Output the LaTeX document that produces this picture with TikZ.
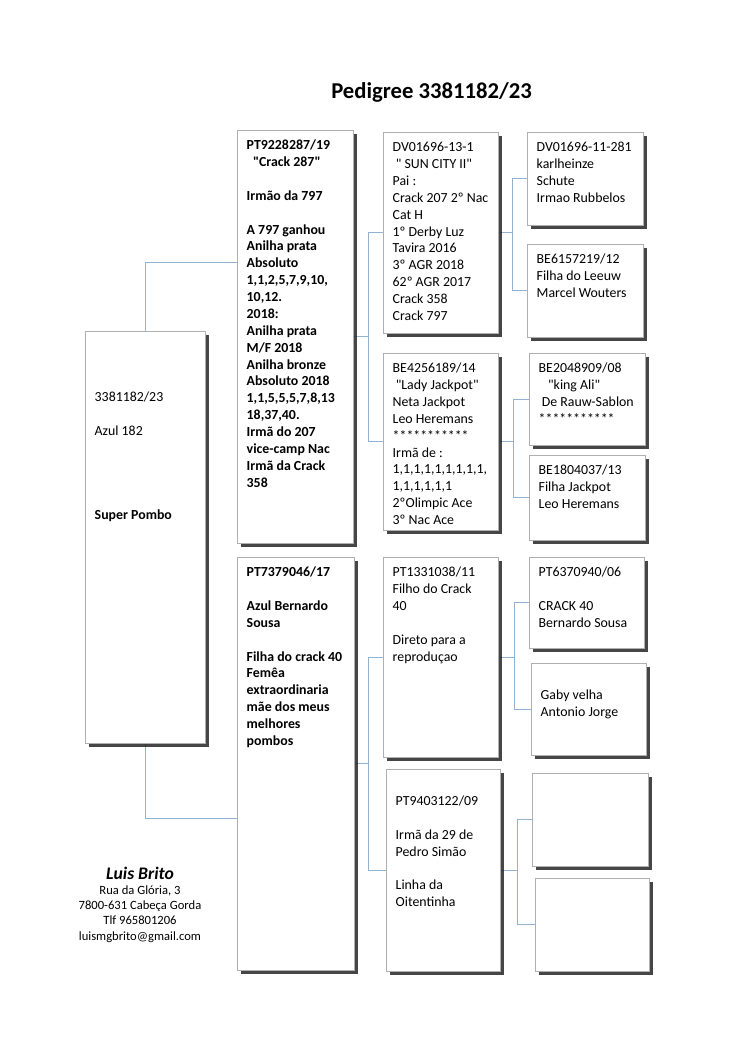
\documentclass[tikz,border=0pt]{standalone}
\usepackage{fontspec}
\setmainfont{Carlito}[Ligatures=TeXOff]
\usepackage{tikz}
\usetikzlibrary{shadows, backgrounds}
\definecolor{linkblue}{RGB}{145, 178, 208}
\definecolor{cardline}{RGB}{175, 175, 175}
\newlength{\px}
\setlength{\px}{0.7937pt}
% text block of a card, width and height given in px
\newcommand{\cell}[3]{\parbox[c][\dimexpr#2\px-12pt\relax][t]{\dimexpr#1\px-15pt\relax}{\raggedright\strut #3}}

\begin{document}
\begin{tikzpicture}[
    x=0.7937pt, y=-0.7937pt,
    card/.style={rectangle, draw=cardline, fill=white, anchor=north west, inner xsep=7.5pt, inner ysep=6pt, font=\fontsize{11}{13.4}\selectfont, drop shadow={shadow xshift=2.6pt, shadow yshift=-2.6pt, fill=black!85, opacity=0.85}},
    link/.style={draw=linkblue, line width=0.6pt}
]
    \useasboundingbox (0,0) rectangle (750,1060);

    % Title
    \node[font=\fontsize{18}{22}\selectfont\bfseries, anchor=base west, inner sep=0pt] (title) at (331,98) {Pedigree 3381182/23};

    % Subject
    \node[card] (subject) at (85,331) {\cell{120}{412}{~\\ ~\\ ~\\ 3381182/23\\ ~\\ Azul 182\\ ~\\ ~\\ ~\\ ~\\ \textbf{Super Pombo}}};

    % Sire
    \node[card] (sire) at (237,130) {\cell{116}{413}{\bfseries PT9228287/19\\ \hspace*{5pt}"Crack 287"\\ ~\\ Irmão da 797\\ ~\\ A 797 ganhou\\ Anilha prata\\ Absoluto\\ 1,1,2,5,7,9,10,\\ 10,12.\\ 2018:\\ Anilha prata\\ M/F 2018\\ Anilha bronze\\ Absoluto 2018\\ 1,1,5,5,5,7,8,13\\ 18,37,40.\\ Irmã do 207\\ vice-camp Nac\\ Irmã da Crack\\ 358}};

    % Dam
    \node[card] (dam) at (237,557) {\cell{117}{413}{\bfseries PT7379046/17\\ ~\\ Azul Bernardo\\ Sousa\\ ~\\ Filha do crack 40\\ Femêa\\ extraordinaria\\ mãe dos meus\\ melhores\\ pombos}};

    % Sire's parents
    \node[card] (ssire) at (383,132) {\cell{115}{201}{DV01696-13-1\\ \hspace*{2.5pt}" SUN CITY II"\\ Pai :\\ Crack 207 2º Nac\\ Cat H\\ 1º Derby Luz\\ Tavira 2016\\ 3º AGR 2018\\ 62º AGR 2017\\ Crack 358\\ Crack 797}};
    \node[card] (sdam) at (383,353) {\cell{115}{177}{BE4256189/14\\ \hspace*{2.5pt}"Lady Jackpot"\\ Neta Jackpot\\ Leo Heremans\\ ************\\ Irmã de :\\ 1,1,1,1,1,1,1,1,1,\\ 1,1,1,1,1,1\\ 2ºOlimpic Ace\\ 3º Nac Ace}};

    % Dam's parents
    \node[card] (dsire) at (383,557) {\cell{115}{200}{PT1331038/11\\ Filho do Crack\\ 40\\ ~\\ Direto para a\\ reproduçao}};
    \node[card] (ddam) at (386,769) {\cell{114}{202}{~\\ PT9403122/09\\ ~\\ Irmã da 29 de\\ Pedro Simão\\ ~\\ Linha da\\ Oitentinha}};

    % Great-grandparents
    \node[card] (sss) at (527,132) {\cell{116}{93}{DV01696-11-281\\ karlheinze\\ Schute\\ Irmao Rubbelos}};
    \node[card] (ssd) at (527,244) {\cell{116}{93}{BE6157219/12\\ Filha do Leeuw\\ Marcel Wouters}};
    \node[card] (sds) at (529,353) {\cell{116}{92}{BE2048909/08\\ \hspace*{7.5pt}"king Ali"\\ \hspace*{2.5pt}De Rauw-Sablon\\ ************}};
    \node[card] (sdd) at (529,455) {\cell{116}{85}{BE1804037/13\\ Filha Jackpot\\ Leo Heremans}};
    \node[card] (dss) at (529,557) {\cell{115}{91}{PT6370940/06\\ ~\\ CRACK 40\\ Bernardo Sousa}};
    \node[card] (dsd) at (531,663) {\cell{115}{92}{~\\ Gaby velha\\ Antonio Jorge}};
    \node[card] (dds) at (532,773) {\cell{116}{93}{}};
    \node[card] (ddd) at (535,878) {\cell{114}{93}{}};

    % Breeder
    \node[font=\fontsize{14}{17}\selectfont\bfseries\itshape] (owner) at (140,873) {Luis Brito};
    \node[font=\fontsize{10}{12.1}\selectfont, align=center, inner sep=0pt] (address) at (140,914) {Rua da Glória, 3\\ 7800-631 Cabeça Gorda\\ Tlf 965801206\\ luismgbrito@gmail.com};

    \begin{scope}[on background layer]
        \draw[link] (subject.north) |- (sire.west |- 0,262);
        \draw[link] (subject.south) |- (dam.west |- 0,818);
        \draw[link] (sire.east) -- ++(15,0) |- (ssire.west);
        \draw[link] (sire.east) -- ++(15,0) |- (sdam.west);
        \draw[link] (dam.east) -- ++(14,0) |- (dsire.west);
        \draw[link] (dam.east) -- ++(14,0) |- (ddam.west);
        \draw[link] (ssire.east) -- ++(14,0) |- (sss.west);
        \draw[link] (ssire.east) -- ++(14,0) |- (ssd.west);
        \draw[link] (sdam.east) -- ++(15,0) |- (sds.west);
        \draw[link] (sdam.east) -- ++(15,0) |- (sdd.west);
        \draw[link] (dsire.east) -- ++(16,0) |- (dss.west);
        \draw[link] (dsire.east) -- ++(16,0) |- (dsd.west);
        \draw[link] (ddam.east) -- ++(17,0) |- (dds.west);
        \draw[link] (ddam.east) -- ++(17,0) |- (ddd.west);
    \end{scope}
\end{tikzpicture}
\end{document}
